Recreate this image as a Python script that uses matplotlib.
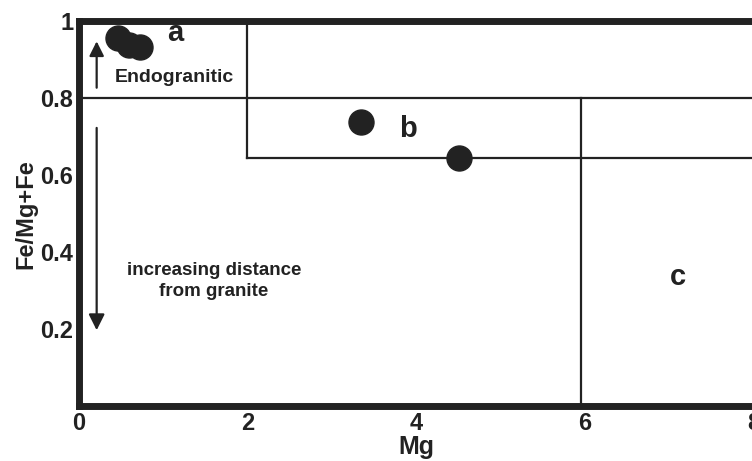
import matplotlib
matplotlib.use("Agg")
import matplotlib.pyplot as plt

# Data
mg_a = [0.46, 0.59, 0.72]
fe_a = [0.956, 0.938, 0.933]
mg_b = [3.34, 4.51]
fe_b = [0.738, 0.644]

x_ticks = [0, 2, 4, 6, 8]
y_ticks = [0.2, 0.4, 0.6, 0.8, 1.0]
y_tick_labels = ["0.2", "0.4", "0.6", "0.8", "1"]

# field boundaries
endo_limit = 0.8
b_lower = 0.644
b_left = 1.99
c_left = 5.95

plt.rcParams["font.family"] = ["Liberation Sans", "DejaVu Sans"]

fig = plt.figure(figsize=(7.52, 4.61), dpi=100)
ax = fig.add_axes([0.105, 0.119, 0.897, 0.835])
ax.set_xlim(0, 7.97)
ax.set_ylim(0, 1)

ink = "#222222"
lw = 1.6
ax.axhline(endo_limit, color=ink, lw=lw)
ax.plot([b_left, b_left], [b_lower, 1], color=ink, lw=lw)
ax.plot([b_left, 8], [b_lower, b_lower], color=ink, lw=lw)
ax.plot([c_left, c_left], [0, endo_limit], color=ink, lw=lw)

ax.plot(mg_a, fe_a, "o", color=ink, ms=18, mec=ink)
ax.plot(mg_b, fe_b, "o", color=ink, ms=18, mec=ink)

# arrows
ax.annotate("", xy=(0.21, 0.955), xytext=(0.21, 0.82),
            arrowprops=dict(arrowstyle="-|>", color=ink, lw=1.6, mutation_scale=22))
ax.annotate("", xy=(0.21, 0.19), xytext=(0.21, 0.73),
            arrowprops=dict(arrowstyle="-|>", color=ink, lw=1.6, mutation_scale=24))

bold = dict(fontweight="bold", color=ink)
ax.text(1.13, 0.855, "Endogranitic", fontsize=14, ha="center", va="center", **bold)
ax.text(1.6, 0.325, "increasing distance\nfrom granite", fontsize=13.5, ha="center",
        va="center", linespacing=1.3, **bold)
ax.text(1.14, 0.97, "a", fontsize=21, ha="center", va="center", **bold)
ax.text(3.9, 0.72, "b", fontsize=21, ha="center", va="center", **bold)
ax.text(7.1, 0.335, "c", fontsize=21, ha="center", va="center", **bold)

for side in ["left", "bottom", "top"]:
    ax.spines[side].set_linewidth(5)
    ax.spines[side].set_color(ink)
ax.spines["right"].set_linewidth(1.6)
ax.spines["right"].set_color(ink)

ax.set_xticks(x_ticks)
ax.set_yticks(y_ticks)
ax.set_yticklabels(y_tick_labels)
ax.tick_params(length=0, labelsize=17, pad=4, colors=ink)
for lab in ax.get_xticklabels() + ax.get_yticklabels():
    lab.set_fontweight("bold")

ax.set_xlabel("Mg", fontsize=18, fontweight="bold", color=ink, labelpad=0)
ax.set_ylabel("Fe/Mg+Fe", fontsize=17, fontweight="bold", color=ink, labelpad=2)

fig.savefig("out.png", dpi=100)
